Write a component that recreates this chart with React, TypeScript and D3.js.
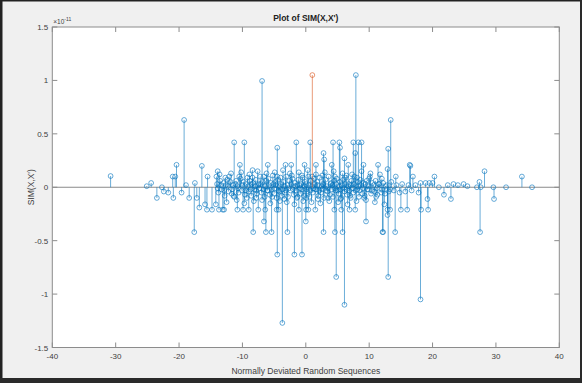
import React, { useRef, useEffect } from 'react';
import * as d3 from 'd3';

// values are in units of 1e-11
const xTicks = [-40, -30, -20, -10, 0, 10, 20, 30, 40];
const yTicks = [-1.5, -1, -0.5, 0, 0.5, 1, 1.5];

const spikePoints: [number, number][] = [
  [-30.8, 0.105], [-25.1, 0.01], [-24.4, 0.04], [-23.5, -0.1], [-22.7, 0.0], [-22.4, -0.04],
  [-21.7, -0.05], [-21.0, 0.1], [-20.9, -0.1], [-20.6, 0.1], [-20.4, 0.21], [-19.6, -0.05],
  [-19.2, 0.63], [-18.9, 0.02], [-18.4, -0.1], [-17.6, -0.42], [-17.5, 0.04], [-17.2, -0.1],
  [-16.8, -0.19], [-16.4, 0.2], [-15.9, -0.16], [-15.6, -0.21], [-15.5, 0.1], [-14.8, -0.21],
  [-14.2, -0.16], [-14.1, 0.1], [-13.9, 0.15], [-13.7, -0.21], [-13.1, -0.21], [-12.9, -0.21],
  [-12.1, 0.1], [-11.3, 0.42], [-10.8, -0.21], [-10.4, 0.21], [-9.9, -0.21], [-9.7, 0.42],
  [-9.0, -0.21], [-8.4, 0.16], [-8.3, -0.42], [-7.5, -0.21], [-6.9, 0.995], [-6.6, -0.32],
  [-6.4, -0.21], [-6.3, -0.42], [-6.0, 0.21], [-5.4, -0.42], [-4.6, -0.21], [-4.5, 0.37],
  [-4.5, -0.63], [-4.3, -0.21], [-3.7, -1.27], [-3.2, 0.21], [-2.9, -0.42], [-2.3, 0.21],
  [-1.8, -0.63], [-1.5, 0.42], [-1.1, -0.21], [-0.6, -0.63], [-0.2, 0.21], [0.0, -0.32],
  [0.05, -0.21], [0.4, -0.21], [0.7, 0.42], [1.5, -0.21], [1.6, 0.21], [2.8, 0.32],
  [2.8, -0.42], [2.9, 0.26], [4.1, 0.21], [4.3, 0.42], [4.5, -0.21], [4.6, -0.42],
  [4.8, -0.84], [5.3, 0.42], [5.4, 0.37], [5.6, -0.21], [5.8, -0.42], [6.1, 0.27],
  [6.1, -1.1], [6.7, 0.21], [6.9, -0.21], [7.5, 0.42], [7.8, 0.32], [7.8, -0.21],
  [7.9, 1.05], [8.3, 0.42], [8.8, 0.42], [9.1, 0.21], [9.5, -0.32],
  [11.4, 0.21], [12.1, -0.42], [12.2, -0.42], [12.9, -0.26], [12.9, -0.21], [12.9, 0.17],
  [13.0, 0.36], [13.0, -0.84], [13.3, -0.21], [13.4, 0.63], [14.1, -0.42], [14.2, 0.1],
  [15.0, -0.21], [16.0, -0.21], [16.4, 0.21], [16.5, 0.2], [16.9, 0.1], [18.1, -1.05],
  [18.1, 0.04], [18.2, -0.21], [18.9, 0.04], [19.2, -0.11], [19.3, -0.21], [19.5, 0.04],
  [20.0, 0.04], [20.3, 0.1], [21.0, 0.0], [21.8, -0.07], [22.4, 0.02], [22.9, -0.11],
  [23.3, 0.03], [24.0, 0.02], [24.9, 0.03], [25.5, 0.01], [27.0, 0.0], [27.4, 0.05],
  [27.5, -0.42], [27.6, 0.0], [28.2, 0.15], [29.6, 0.0], [29.7, -0.11], [31.6, 0.0],
  [34.1, 0.1], [35.7, 0.0],
];

const corePoints: [number, number][] = [
  [-14.0, 0.03], [-13.8, -0.05], [-13.5, 0.06], [-13.3, -0.02], [-13.0, 0.04], [-12.8, -0.08],
  [-12.6, 0.02], [-12.4, 0.07], [-12.2, -0.04], [-11.9, 0.05], [-11.7, -0.06], [-11.5, 0.02],
  [-11.3, -0.09], [-11.0, 0.06], [-10.8, 0.01], [-10.6, -0.05], [-10.3, 0.08], [-10.1, -0.03],
  [-9.8, 0.05], [-9.6, -0.07], [-9.4, 0.03], [-9.2, 0.09], [-9.0, -0.04], [-8.8, 0.06],
  [-8.6, -0.08], [-8.3, 0.04], [-8.1, -0.02], [-7.9, 0.07], [-7.7, -0.06], [-7.4, 0.03],
  [-7.2, 0.1], [-7.0, -0.05], [-6.8, 0.05], [-6.5, -0.09], [-6.3, 0.06], [-6.1, -0.03],
  [-5.9, 0.08], [-5.7, -0.07], [-5.5, 0.04], [-5.2, 0.11], [-5.0, -0.06], [-4.8, 0.05],
  [-4.6, -0.1], [-4.4, 0.07], [-4.2, -0.04], [-4.0, 0.09], [-3.8, -0.08], [-3.5, 0.05],
  [-3.3, -0.05], [-3.1, 0.1], [-2.8, -0.09], [-2.6, 0.06], [-2.4, -0.03], [-2.1, 0.08],
  [-1.9, -0.07], [-1.7, 0.04], [-1.4, -0.1], [-1.2, 0.07], [-1.0, 0.02], [-0.8, -0.06],
  [-0.5, 0.09], [-0.3, -0.08], [-0.1, 0.05], [0.2, -0.04], [0.4, 0.1], [0.6, -0.09],
  [0.8, 0.06], [1.1, -0.05], [1.3, 0.08], [1.5, -0.02], [1.8, 0.05], [2.0, -0.08],
  [2.2, 0.09], [2.4, -0.05], [2.7, 0.03], [2.9, -0.1], [3.1, 0.07], [3.4, -0.04],
  [3.6, 0.1], [3.8, -0.07], [4.0, 0.04], [4.3, -0.09], [4.5, 0.06], [4.7, -0.03],
  [4.9, 0.08], [5.2, -0.06], [5.4, 0.05], [5.6, -0.1], [5.9, 0.07], [6.1, -0.04],
  [6.3, 0.09], [6.5, -0.07], [6.8, 0.03], [7.0, -0.08], [7.2, 0.06], [7.5, -0.05],
  [7.7, 0.1], [7.9, -0.03], [8.2, 0.05], [8.4, -0.09], [8.6, 0.07], [8.9, -0.06],
  [9.1, 0.04], [9.3, -0.08], [9.6, 0.06], [9.8, -0.02], [10.0, 0.08], [10.3, -0.06],
  [10.5, 0.04], [10.8, -0.04], [11.0, 0.06], [11.3, -0.07], [11.6, 0.03], [11.9, -0.05],
  [12.2, 0.04], [12.5, -0.06], [12.8, 0.02], [13.1, -0.04], [13.5, 0.05], [13.9, -0.03],
  [14.3, 0.02], [14.8, -0.05], [15.2, 0.03], [15.7, -0.04], [16.2, 0.02], [16.7, -0.03],
  [17.3, 0.02], [17.8, -0.05],
  [-13.6, 0.12], [-12.5, -0.14], [-11.8, 0.13], [-10.9, -0.12], [-10.2, 0.14], [-9.7, -0.15],
  [-8.9, 0.12], [-8.2, -0.13], [-7.6, 0.15], [-6.9, -0.12], [-6.2, 0.13], [-5.6, -0.15],
  [-4.9, 0.14], [-4.1, -0.13], [-3.6, 0.16], [-3.0, -0.14], [-2.5, 0.13], [-1.8, -0.16],
  [-1.1, 0.14], [-0.4, -0.13], [0.3, 0.16], [0.9, -0.14], [1.6, 0.12], [2.3, -0.15],
  [3.0, 0.14], [3.7, -0.13], [4.4, 0.15], [5.1, -0.14], [5.8, 0.13], [6.6, -0.16],
  [7.3, 0.12], [8.0, -0.13], [8.8, 0.15], [9.5, -0.12], [10.2, 0.13], [10.9, -0.14],
  [11.7, 0.12], [12.4, -0.16],
];

// the dense band hugging zero between -13 and 12
const nearZeroPoints: [number, number][] = [
  [-13.9, -0.01], [-13.4, 0.02], [-12.9, -0.03], [-12.3, 0.01], [-11.6, -0.02], [-11.1, 0.03],
  [-10.7, -0.01], [-10.0, 0.02], [-9.5, -0.03], [-9.1, 0.01], [-8.7, -0.02], [-8.5, 0.03],
  [-8.0, 0.01], [-7.8, -0.03], [-7.5, 0.02], [-7.3, -0.01], [-7.1, 0.03], [-6.7, -0.02],
  [-6.4, 0.01], [-6.0, -0.03], [-5.8, 0.02], [-5.4, -0.02], [-5.1, 0.03], [-4.9, -0.01],
  [-4.7, 0.02], [-4.3, -0.03], [-4.1, 0.01], [-3.9, 0.03], [-3.7, -0.02], [-3.4, 0.01],
  [-3.2, -0.03], [-2.9, 0.02], [-2.7, -0.01], [-2.3, 0.03], [-2.0, -0.02], [-1.6, 0.01],
  [-1.5, -0.03], [-1.3, 0.02], [-0.9, -0.01], [-0.7, 0.03], [-0.6, -0.02], [-0.2, 0.01],
  [0.0, 0.03], [0.1, -0.02], [0.5, 0.02], [0.7, -0.03], [1.0, 0.01], [1.2, -0.01],
  [1.4, 0.03], [1.7, -0.02], [1.9, 0.02], [2.1, -0.03], [2.5, 0.01], [2.6, -0.02],
  [2.8, 0.02], [3.2, -0.03], [3.3, 0.01], [3.5, -0.01], [3.9, 0.03], [4.1, -0.02],
  [4.2, 0.02], [4.6, -0.01], [4.8, 0.03], [5.0, -0.03], [5.3, 0.01], [5.5, -0.02],
  [5.7, 0.02], [6.0, -0.01], [6.2, 0.03], [6.4, -0.02], [6.7, 0.01], [6.9, -0.03],
  [7.1, 0.02], [7.4, -0.01], [7.6, 0.03], [8.1, -0.02], [8.3, 0.01], [8.5, -0.03],
  [8.7, 0.02], [9.0, -0.01], [9.4, 0.03], [9.7, -0.02], [9.9, 0.01], [10.4, -0.03],
  [10.7, 0.02], [11.2, -0.01], [11.5, 0.03], [12.0, -0.02], [12.6, 0.01], [13.3, -0.02],
  [-12.7, 0.09], [-11.4, -0.08], [-10.5, 0.1], [-9.3, -0.1], [-8.4, 0.09], [-7.8, -0.1],
  [-6.6, 0.1], [-5.3, -0.09], [-4.5, 0.1], [-3.4, -0.11], [-2.2, 0.11], [-1.3, -0.09],
  [-0.6, 0.11], [0.1, -0.1], [1.0, 0.1], [1.9, -0.11], [2.6, 0.11], [3.5, -0.1],
  [4.6, 0.1], [5.5, -0.11], [6.4, 0.11], [7.1, -0.1], [8.1, 0.09], [9.2, -0.1],
  [10.1, 0.1], [11.1, -0.09], [12.0, 0.08],
];

const matchPoint: [number, number][] = [[1.03, 1.05]];

const App = () => {
  const svgRef = useRef<SVGSVGElement>(null);

  useEffect(() => {
    const svg = d3.select(svgRef.current);
    svg.selectAll('*').remove();

    const width = 582;
    const height = 383;
    const margin = { left: 52.3, right: 22.7, top: 27, bottom: 35.5 };
    const font = 'Liberation Sans, Arial, sans-serif';
    const textColor = '#404040';

    // figure background and frame
    svg.append('rect').attr('width', width).attr('height', height).attr('fill', '#f0f0f0');
    svg.append('rect').attr('x', 0).attr('y', 0).attr('width', 2.5).attr('height', height).attr('fill', '#222');
    svg.append('rect').attr('x', 0).attr('y', 0).attr('width', width).attr('height', 1.5).attr('fill', '#222');
    svg.append('rect').attr('x', 0).attr('y', 378).attr('width', width).attr('height', 5).attr('fill', '#2a2a2a');
    svg.append('rect').attr('x', 580).attr('y', 0).attr('width', 2).attr('height', height).attr('fill', '#2a2a2a');

    const x = d3.scaleLinear().domain([-40, 40]).range([margin.left, width - margin.right]);
    const y = d3.scaleLinear().domain([-1.5, 1.5]).range([height - margin.bottom, margin.top]);

    const [x0, x1] = x.range();
    const [y0, y1] = y.range();

    svg.append('rect')
      .attr('x', x0).attr('y', y1).attr('width', x1 - x0).attr('height', y0 - y1)
      .attr('fill', '#fff');

    const chart = svg.append('g');

    // baseline
    chart.append('line')
      .attr('x1', x0).attr('x2', x1).attr('y1', y(0)).attr('y2', y(0))
      .attr('stroke', '#8a8a8a').attr('stroke-width', 1.2);

    const drawStems = (pts: [number, number][], color: string) => {
      const g = chart.append('g');
      g.selectAll('line').data(pts).enter().append('line')
        .attr('x1', d => x(d[0])).attr('x2', d => x(d[0]))
        .attr('y1', y(0)).attr('y2', d => y(d[1]))
        .attr('stroke', color).attr('stroke-width', 0.9).attr('stroke-opacity', 0.65);
      g.selectAll('circle').data(pts).enter().append('circle')
        .attr('cx', d => x(d[0])).attr('cy', d => y(d[1])).attr('r', 2.4)
        .attr('fill', 'none').attr('stroke', color).attr('stroke-width', 0.8).attr('stroke-opacity', 0.75);
    };

    drawStems(corePoints, '#0072BD');
    drawStems(nearZeroPoints, '#0072BD');
    drawStems(spikePoints, '#0072BD');
    drawStems(matchPoint, '#D95319');

    // axes box + inward ticks
    const axisColor = '#8c8c8c';
    svg.append('rect')
      .attr('x', x0).attr('y', y1).attr('width', x1 - x0).attr('height', y0 - y1)
      .attr('fill', 'none').attr('stroke', axisColor).attr('stroke-width', 1);

    const tickLen = 5;
    const ticks = svg.append('g').attr('stroke', axisColor).attr('stroke-width', 1);
    xTicks.forEach(t => {
      ticks.append('line').attr('x1', x(t)).attr('x2', x(t)).attr('y1', y0).attr('y2', y0 - tickLen);
      ticks.append('line').attr('x1', x(t)).attr('x2', x(t)).attr('y1', y1).attr('y2', y1 + tickLen);
    });
    yTicks.forEach(t => {
      ticks.append('line').attr('x1', x0).attr('x2', x0 + tickLen).attr('y1', y(t)).attr('y2', y(t));
      ticks.append('line').attr('x1', x1).attr('x2', x1 - tickLen).attr('y1', y(t)).attr('y2', y(t));
    });

    const labels = svg.append('g').style('font-family', font).attr('fill', textColor);

    labels.selectAll('text.xt').data(xTicks).enter().append('text')
      .attr('x', d => x(d)).attr('y', y0 + 11.5)
      .attr('text-anchor', 'middle').style('font-size', '8px')
      .text(d => String(d));

    labels.selectAll('text.yt').data(yTicks).enter().append('text')
      .attr('x', x0 - 4).attr('y', d => y(d) + 3)
      .attr('text-anchor', 'end').style('font-size', '8px')
      .text(d => String(d));

    const expo = labels.append('text').attr('x', x0 + 1).attr('y', y1 - 3).style('font-size', '6.5px');
    expo.append('tspan').text('\u00d710');
    expo.append('tspan').attr('dy', -3).style('font-size', '5px').text('-11');

    labels.append('text')
      .attr('x', (x0 + x1) / 2).attr('y', 21)
      .attr('text-anchor', 'middle').style('font-size', '8.5px').style('font-weight', 'bold')
      .attr('fill', '#222')
      .text("Plot of SIM(X,X')");

    labels.append('text')
      .attr('x', (x0 + x1) / 2).attr('y', 374)
      .attr('text-anchor', 'middle').style('font-size', '8.5px')
      .text('Normally Deviated Random Sequences');

    labels.append('text')
      .attr('transform', `translate(34,${y(0)}) rotate(-90)`)
      .attr('text-anchor', 'middle').style('font-size', '8.5px')
      .text("SIM(X,X')");
  }, []);

  return (
    <svg ref={svgRef} width={582} height={383}
      style={{ position: 'fixed', left: 0, top: 0, display: 'block' }} />
  );
};

export default App;
